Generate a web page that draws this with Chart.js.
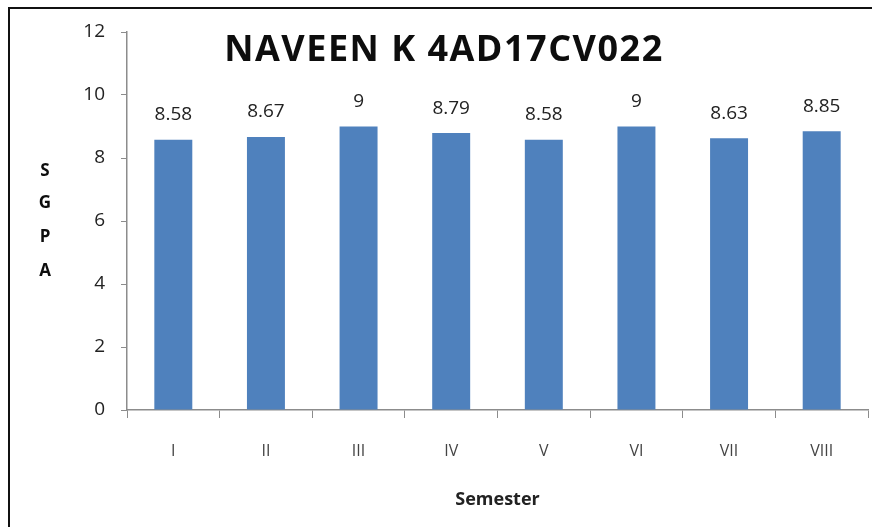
<!DOCTYPE html>
<html>
<head>
<meta charset="utf-8">
<script src="https://cdn.jsdelivr.net/npm/chart.js@4"></script>
<style>
  html, body { margin: 0; padding: 0; background: #fff; }
  #wrap { position: relative; width: 872px; height: 527px; }
</style>
</head>
<body>
<div id="wrap"><canvas id="sgpa" width="872" height="527"></canvas></div>
<script>
// ── data ────────────────────────────────────────────────
const semesters = ['I', 'II', 'III', 'IV', 'V', 'VI', 'VII', 'VIII'];
const sgpaValues = [8.58, 8.67, 9, 8.79, 8.58, 9, 8.63, 8.85];
const yTicks = [0, 2, 4, 6, 8, 10, 12];
const chartTitle = 'NAVEEN K 4AD17CV022';
const yTitleLetters = ['S', 'G', 'P', 'A'];
const xTitle = 'Semester';

const FONT = "'Open Sans', Lato, sans-serif";
const BAR_BLUE = '#4f81bd';
const AXIS_GREY = '#8c8c8c';

// value labels above bars + title / stacked y label / frame
const overlayPlugin = {
    id: 'overlay',
    beforeDraw(chart) {
        const ctx = chart.ctx;
        ctx.save();
        ctx.fillStyle = '#fff';
        ctx.fillRect(0, 0, chart.width, chart.height);
        ctx.strokeStyle = '#111';
        ctx.lineWidth = 2;
        ctx.beginPath();
        ctx.moveTo(9, chart.height + 5);
        ctx.lineTo(9, 8);
        ctx.lineTo(chart.width + 5, 8);
        ctx.stroke();
        ctx.restore();
    },
    afterDatasetsDraw(chart) {
        const ctx = chart.ctx;
        const meta = chart.getDatasetMeta(0);
        ctx.save();
        ctx.fillStyle = '#222';
        ctx.font = `19px ${FONT}`;
        ctx.textAlign = 'center';
        ctx.textBaseline = 'middle';
        meta.data.forEach((bar, i) => {
            ctx.fillText(String(sgpaValues[i]), bar.x, bar.y - 25);
        });

        // chart title (stretched a little to match the original's width)
        ctx.fillStyle = '#0d0d0d';
        ctx.font = `bold 36px ${FONT}`;
        ctx.letterSpacing = '1.5px';
        ctx.fillText(chartTitle, 444, 51);
        ctx.letterSpacing = '0px';

        // stacked y axis label
        ctx.font = `bold 17px ${FONT}`;
        const ys = [171, 203, 237, 271];
        yTitleLetters.forEach((ch, i) => ctx.fillText(ch, 45, ys[i]));
        ctx.restore();
    },
};

new Chart(document.getElementById('sgpa'), {
    type: 'bar',
    data: {
        labels: semesters,
        datasets: [{
            data: sgpaValues,
            backgroundColor: BAR_BLUE,
            borderWidth: 0,
            categoryPercentage: 1,
            barPercentage: 0.41,
        }],
    },
    options: {
        responsive: false,
        animation: false,
        layout: { padding: { top: 32, left: 0, right: 4, bottom: 12 } },
        plugins: {
            legend: { display: false },
            tooltip: { enabled: false },
        },
        scales: {
            x: {
                afterFit(scale) { scale.height = 105; },
                grid: {
                    drawOnChartArea: false,
                    drawTicks: true,
                    tickLength: 8,
                    color: AXIS_GREY,
                    offset: true,
                },
                border: { color: AXIS_GREY, width: 1.5 },
                ticks: {
                    color: '#444',
                    padding: 24,
                    font: { family: FONT, size: 16 },
                },
                title: {
                    display: true,
                    text: xTitle,
                    color: '#222',
                    font: { family: FONT, size: 18, weight: 'bold' },
                },
            },
            y: {
                min: 0,
                max: 12,
                afterFit(scale) { scale.width = 127; },
                afterBuildTicks(scale) { scale.ticks = yTicks.map(v => ({ value: v })); },
                grid: {
                    drawOnChartArea: false,
                    drawTicks: true,
                    tickLength: 6,
                    color: AXIS_GREY,
                },
                border: { color: AXIS_GREY, width: 1.5 },
                ticks: {
                    color: '#222',
                    padding: 16,
                    font: { family: FONT, size: 19 },
                },
            },
        },
    },
    plugins: [overlayPlugin],
});
</script>
</body>
</html>
